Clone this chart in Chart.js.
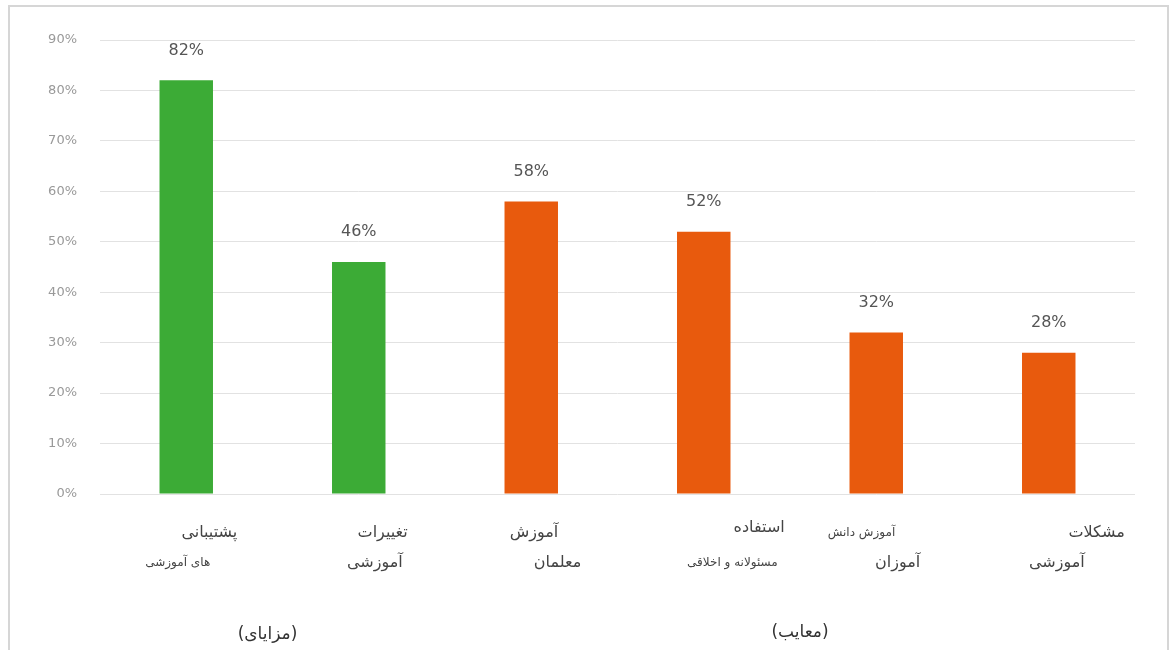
<!DOCTYPE html>
<html>
<head>
<meta charset="utf-8">
<script src="https://cdn.jsdelivr.net/npm/chart.js@4"></script>
<style>
  html, body { margin: 0; padding: 0; background: #fff; }
  #wrap { position: relative; width: 1176px; height: 650px; overflow: hidden; }
  #frame { position: absolute; left: 8px; top: 5px; width: 1157px; height: 700px; border: 2px solid #d6d6d6; }
  canvas { position: absolute; left: 0; top: 0; }
</style>
</head>
<body>
<div id="wrap">
  <div id="frame"></div>
  <canvas id="chart" width="1176" height="650"></canvas>
</div>
<script>
// data
const categories = [
  ['پشتیبانی', 'های آموزشی'],
  ['تغییرات', 'آموزشی'],
  ['آموزش', 'معلمان'],
  ['استفاده', 'مسئولانه و اخلاقی'],
  ['آموزش دانش', 'آموزان'],
  ['مشکلات', 'آموزشی']
];
const values = [82, 46, 58, 52, 32, 28];
const groups = ['(مزایای)', '(معایب)'];
const yTicks = [0, 10, 20, 30, 40, 50, 60, 70, 80, 90];

// styling
const green = '#3cab36';
const orange = '#e85a0d';
const barColors = [green, green, orange, orange, orange, orange];
// per line: [right edge offset from bar centre, y, font size]
const labelLayout = [
  [[51, 533, 16], [24, 563, 12]],
  [[49, 533, 16], [44, 563, 16]],
  [[27, 533, 16], [50, 563, 16]],
  [[81, 528, 16], [74, 563, 12]],
  [[19, 533, 12], [44, 563, 16]],
  [[76, 533, 16], [36, 563, 16]]
];
const faFont = '"DejaVu Sans", sans-serif';

const labelsPlugin = {
  id: 'labels',
  afterDraw(chart) {
    const ctx = chart.ctx;
    const xs = chart.scales.x;
    const meta = chart.getDatasetMeta(0);
    ctx.save();
    // value labels
    ctx.fillStyle = '#555';
    ctx.font = '16px ' + faFont;
    ctx.textAlign = 'center';
    ctx.textBaseline = 'middle';
    meta.data.forEach((bar, i) => {
      ctx.fillText(values[i] + '%', bar.x, bar.y - 30);
    });
    // category labels
    ctx.direction = 'rtl';
    ctx.textAlign = 'right';
    ctx.fillStyle = '#444';
    categories.forEach((lines, i) => {
      const cx = xs.getPixelForValue(i);
      lines.forEach((t, j) => {
        const [dx, y, size] = labelLayout[i][j];
        ctx.font = size + 'px ' + faFont;
        ctx.fillText(t, cx + dx, y);
      });
    });
    // group labels
    ctx.textAlign = 'center';
    ctx.font = '17px ' + faFont;
    ctx.fillStyle = '#333';
    const g1 = (xs.getPixelForValue(0) + xs.getPixelForValue(1)) / 2 - 5;
    const g2 = (xs.getPixelForValue(3) + xs.getPixelForValue(4)) / 2 + 10;
    ctx.fillText(groups[0], g1, 635);
    ctx.fillText(groups[1], g2, 633);
    ctx.restore();
  }
};

new Chart(document.getElementById('chart'), {
  type: 'bar',
  data: {
    labels: categories.map(c => c.join(' ')),
    datasets: [{
      data: values,
      backgroundColor: barColors,
      barPercentage: 0.31,
      categoryPercentage: 1
    }]
  },
  options: {
    responsive: false,
    animation: false,
    layout: { padding: { left: 0, top: 40, right: 41, bottom: 156 } },
    plugins: {
      legend: { display: false },
      tooltip: { enabled: false }
    },
    scales: {
      x: { display: false },
      y: {
        min: 0,
        max: 90,
        afterBuildTicks(scale) { scale.ticks = yTicks.map(v => ({ value: v })); },
        afterFit(scale) { scale.width = 100; },
        border: { display: false },
        grid: { color: '#e2e2e2', drawTicks: false },
        ticks: {
          padding: 23,
          color: '#999',
          font: { family: 'DejaVu Sans', size: 13 },
          callback: v => v + '%'
        }
      }
    }
  },
  plugins: [labelsPlugin]
});
</script>
</body>
</html>
